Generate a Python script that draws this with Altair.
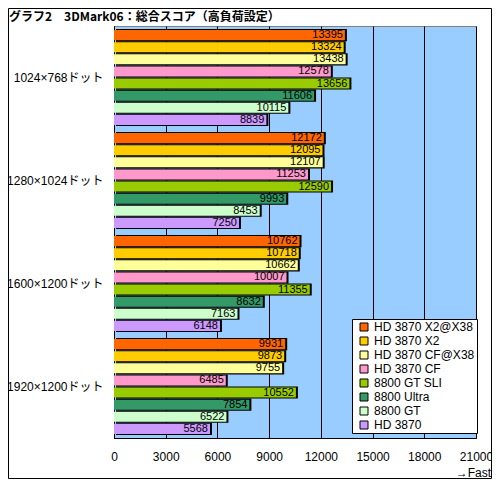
import altair as alt
import pandas as pd

groups = ["1024×768ドット", "1280×1024ドット", "1600×1200ドット", "1920×1200ドット"]
series = ["HD 3870 X2@X38", "HD 3870 X2", "HD 3870 CF@X38", "HD 3870 CF",
          "8800 GT SLI", "8800 Ultra", "8800 GT", "HD 3870"]
colors = ["#FF6600", "#FFCC00", "#FFFF99", "#FF99CC",
          "#99CC00", "#339966", "#CCFFCC", "#CC99FF"]
values = {
    "1024×768ドット": [13395, 13324, 13438, 12578, 13656, 11606, 10115, 8839],
    "1280×1024ドット": [12172, 12095, 12107, 11253, 12590, 9993, 8453, 7250],
    "1600×1200ドット": [10762, 10718, 10662, 10007, 11355, 8632, 7163, 6148],
    "1920×1200ドット": [9931, 9873, 9755, 6485, 10552, 7854, 6522, 5568],
}
x_ticks = [0, 3000, 6000, 9000, 12000, 15000, 18000, 21000]
title_text = "グラフ2　3DMark06：総合スコア（高負荷設定）"
direction_text = "→Fast"

rows = []
for g in groups:
    for s, v in zip(series, values[g]):
        rows.append({"group": g, "series": s, "value": v})
df = pd.DataFrame(rows)

FONT = "Liberation Sans, Noto Sans CJK JP"

yenc = alt.Y("group:N", sort=groups,
             scale=alt.Scale(paddingInner=0, paddingOuter=0),
             axis=alt.Axis(title=None, ticks=False, domain=True, domainColor="black",
                           labelPadding=11, labelFontSize=12, labelColor="black",
                           labelFont=FONT, grid=False))

xenc = alt.X("value:Q",
             scale=alt.Scale(domain=[0, 21000], nice=False, zero=True),
             axis=alt.Axis(values=x_ticks, grid=True, gridColor="black", gridOpacity=1,
                           gridWidth=1, domain=True, domainColor="black", ticks=False,
                           labelFontSize=12, labelPadding=13, labelColor="black",
                           labelFont=FONT, title=None, format="d", labelFlush=False))

off_enc = alt.YOffset("series:N", sort=series,
                      scale=alt.Scale(paddingInner=0, paddingOuter=0.25))
BAR_H = 10.1

# black drop shadow: fills the whole sub-band, shifted 2px right
shadow = alt.Chart(df).mark_bar(color="black", xOffset=2).encode(
    x=xenc, y=yenc, yOffset=off_enc)

bars = alt.Chart(df).mark_bar(strokeWidth=0, height=BAR_H).encode(
    x=xenc, y=yenc, yOffset=off_enc,
    color=alt.Color("series:N", sort=series,
                    scale=alt.Scale(domain=series, range=colors),
                    legend=alt.Legend(title=None, orient="none", legendX=238, legendY=293,
                                      fillColor="white", strokeColor="black", padding=2,
                                      symbolType="square", symbolSize=64,
                                      symbolStrokeColor="black", symbolStrokeWidth=1,
                                      symbolOffset=4,
                                      labelFontSize=12, labelFont=FONT, labelColor="black",
                                      rowPadding=2.0, labelLimit=300, labelOffset=4)),
)

labels = alt.Chart(df).mark_text(align="right", baseline="middle", dx=-2, fontSize=11,
                                 font=FONT, color="black").encode(
    x=alt.X("value:Q"), y=yenc, yOffset=off_enc,
    text=alt.Text("value:Q", format="d"),
)

one = alt.Data(values=[{}])
title_mark = alt.Chart(one).mark_text(align="left", baseline="middle", fontSize=12,
                                      fontWeight="bold", font="Noto Sans CJK JP",
                                      color="black").encode(
    x=alt.value(-105), y=alt.value(-9), text=alt.value(title_text))

fast_mark = alt.Chart(one).mark_text(align="right", baseline="middle", fontSize=12,
                                     font=FONT, color="black").encode(
    x=alt.value(377), y=alt.value(447), text=alt.value(direction_text))

frame = alt.Chart(one).mark_rect(fill=None, stroke="black", strokeWidth=1).encode(
    x=alt.value(-105.5), x2=alt.value(377.5), y=alt.value(-17.5), y2=alt.value(452.5))

chart = alt.layer(shadow, bars, labels, title_mark, fast_mark, frame).properties(
    width=362, height=412,
    autosize=alt.AutoSizeParams(type="none"),
    padding={"left": 106, "top": 18, "right": 16, "bottom": 41},
    background="white",
).configure_view(fill="#99CCFF", stroke="#808080")

chart.save("out.html", embed_options={"renderer": "svg", "actions": False})
